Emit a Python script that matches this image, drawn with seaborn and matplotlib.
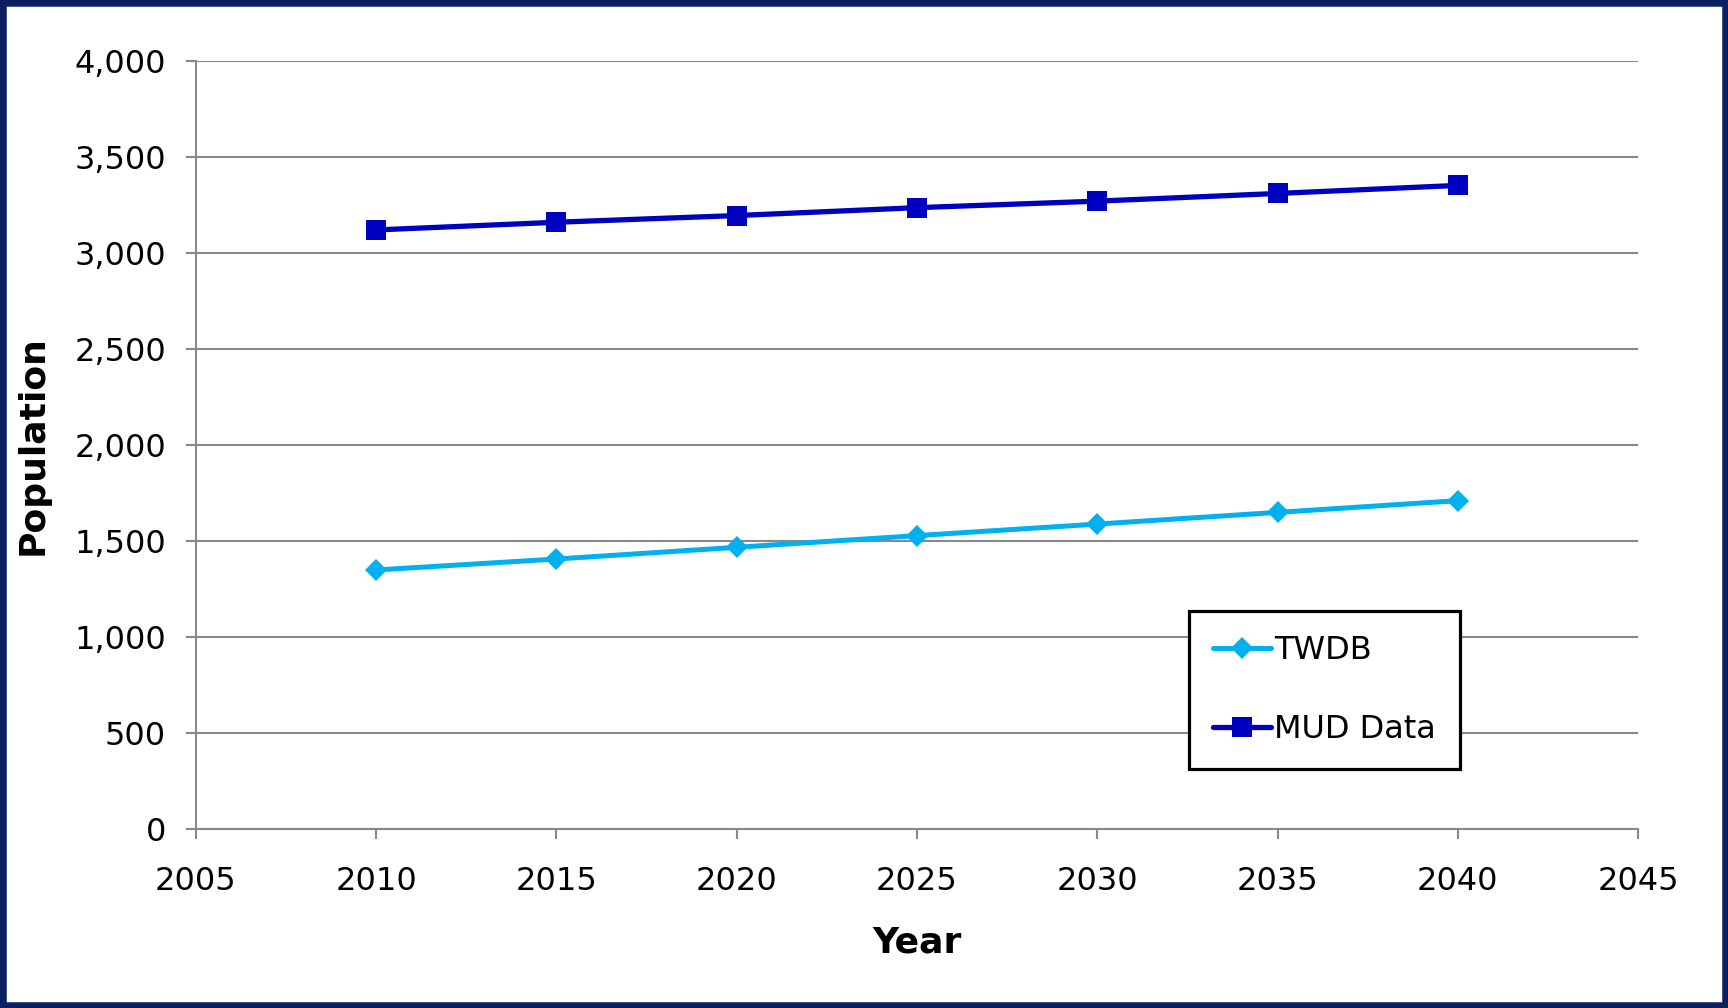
import matplotlib
matplotlib.use("Agg")
import matplotlib.pyplot as plt
from matplotlib.patches import Rectangle
from matplotlib.ticker import FuncFormatter, MultipleLocator
import seaborn as sns
import pandas as pd

# Population projections by year
years = [2010, 2015, 2020, 2025, 2030, 2035, 2040]
twdb = [1349, 1406, 1467, 1528, 1588, 1649, 1710]
mud_data = [3120, 3160, 3195, 3236, 3270, 3310, 3352]

series_names = ["TWDB", "MUD Data"]
series_colors = ["#00B0F0", "#0000C0"]

sns.set_theme(style="white")
plt.rcParams["font.family"] = ["DejaVu Sans"]
plt.rcParams["text.color"] = "black"
plt.rcParams["axes.labelcolor"] = "black"

fig = plt.figure(figsize=(17.28, 10.08), dpi=100)
ax = fig.add_axes([0.1133, 0.1776, 0.8347, 0.7619])

df_twdb = pd.DataFrame({"Year": years, "Population": twdb})
df_mud = pd.DataFrame({"Year": years, "Population": mud_data})

sns.lineplot(data=df_twdb, x="Year", y="Population", ax=ax,
             color=series_colors[0], linewidth=3.6, marker="D",
             markersize=11, markeredgewidth=0, label=series_names[0])
sns.lineplot(data=df_mud, x="Year", y="Population", ax=ax,
             color=series_colors[1], linewidth=3.8, marker="s",
             markersize=15, markeredgewidth=0, label=series_names[1])

grid_gray = "#888888"
ax.set_xlim(2005, 2045)
ax.set_ylim(0, 4000)
ax.xaxis.set_major_locator(MultipleLocator(5))
ax.yaxis.set_major_locator(MultipleLocator(500))
ax.yaxis.set_major_formatter(FuncFormatter(lambda v, p: f"{int(v):,}"))

ax.grid(axis="y", color=grid_gray, linewidth=1.5)
ax.grid(axis="x", visible=False)
ax.set_axisbelow(True)

for side in ["top", "right"]:
    ax.spines[side].set_visible(False)
for side in ["left", "bottom"]:
    ax.spines[side].set_color(grid_gray)
    ax.spines[side].set_linewidth(1.5)

ax.tick_params(axis="both", which="major", direction="out", length=7.5,
               width=1.5, color=grid_gray, labelsize=23, labelcolor="black",
               left=True, bottom=True)
ax.tick_params(axis="x", pad=19)
ax.tick_params(axis="y", pad=14)

ax.set_xlabel("Year", fontsize=26, fontweight="bold", labelpad=21)
ax.set_ylabel("Population", fontsize=26, fontweight="bold", labelpad=18)

leg = ax.legend(loc="upper left", bbox_to_anchor=(0.6887, 0.2839),
                borderaxespad=0, fontsize=23, frameon=True, fancybox=False,
                framealpha=1, edgecolor="black", handlelength=1.8,
                handletextpad=0.12, labelspacing=1.5, borderpad=0.75)
leg.get_frame().set_linewidth(2.3)
for txt in leg.get_texts():
    txt.set_color("black")

# Navy frame around the whole figure
fig.patches.append(Rectangle((0, 0), 1, 1, transform=fig.transFigure,
                             fill=False, edgecolor="#0A2063", linewidth=9,
                             zorder=10))

fig.savefig("out.png", dpi=100)
